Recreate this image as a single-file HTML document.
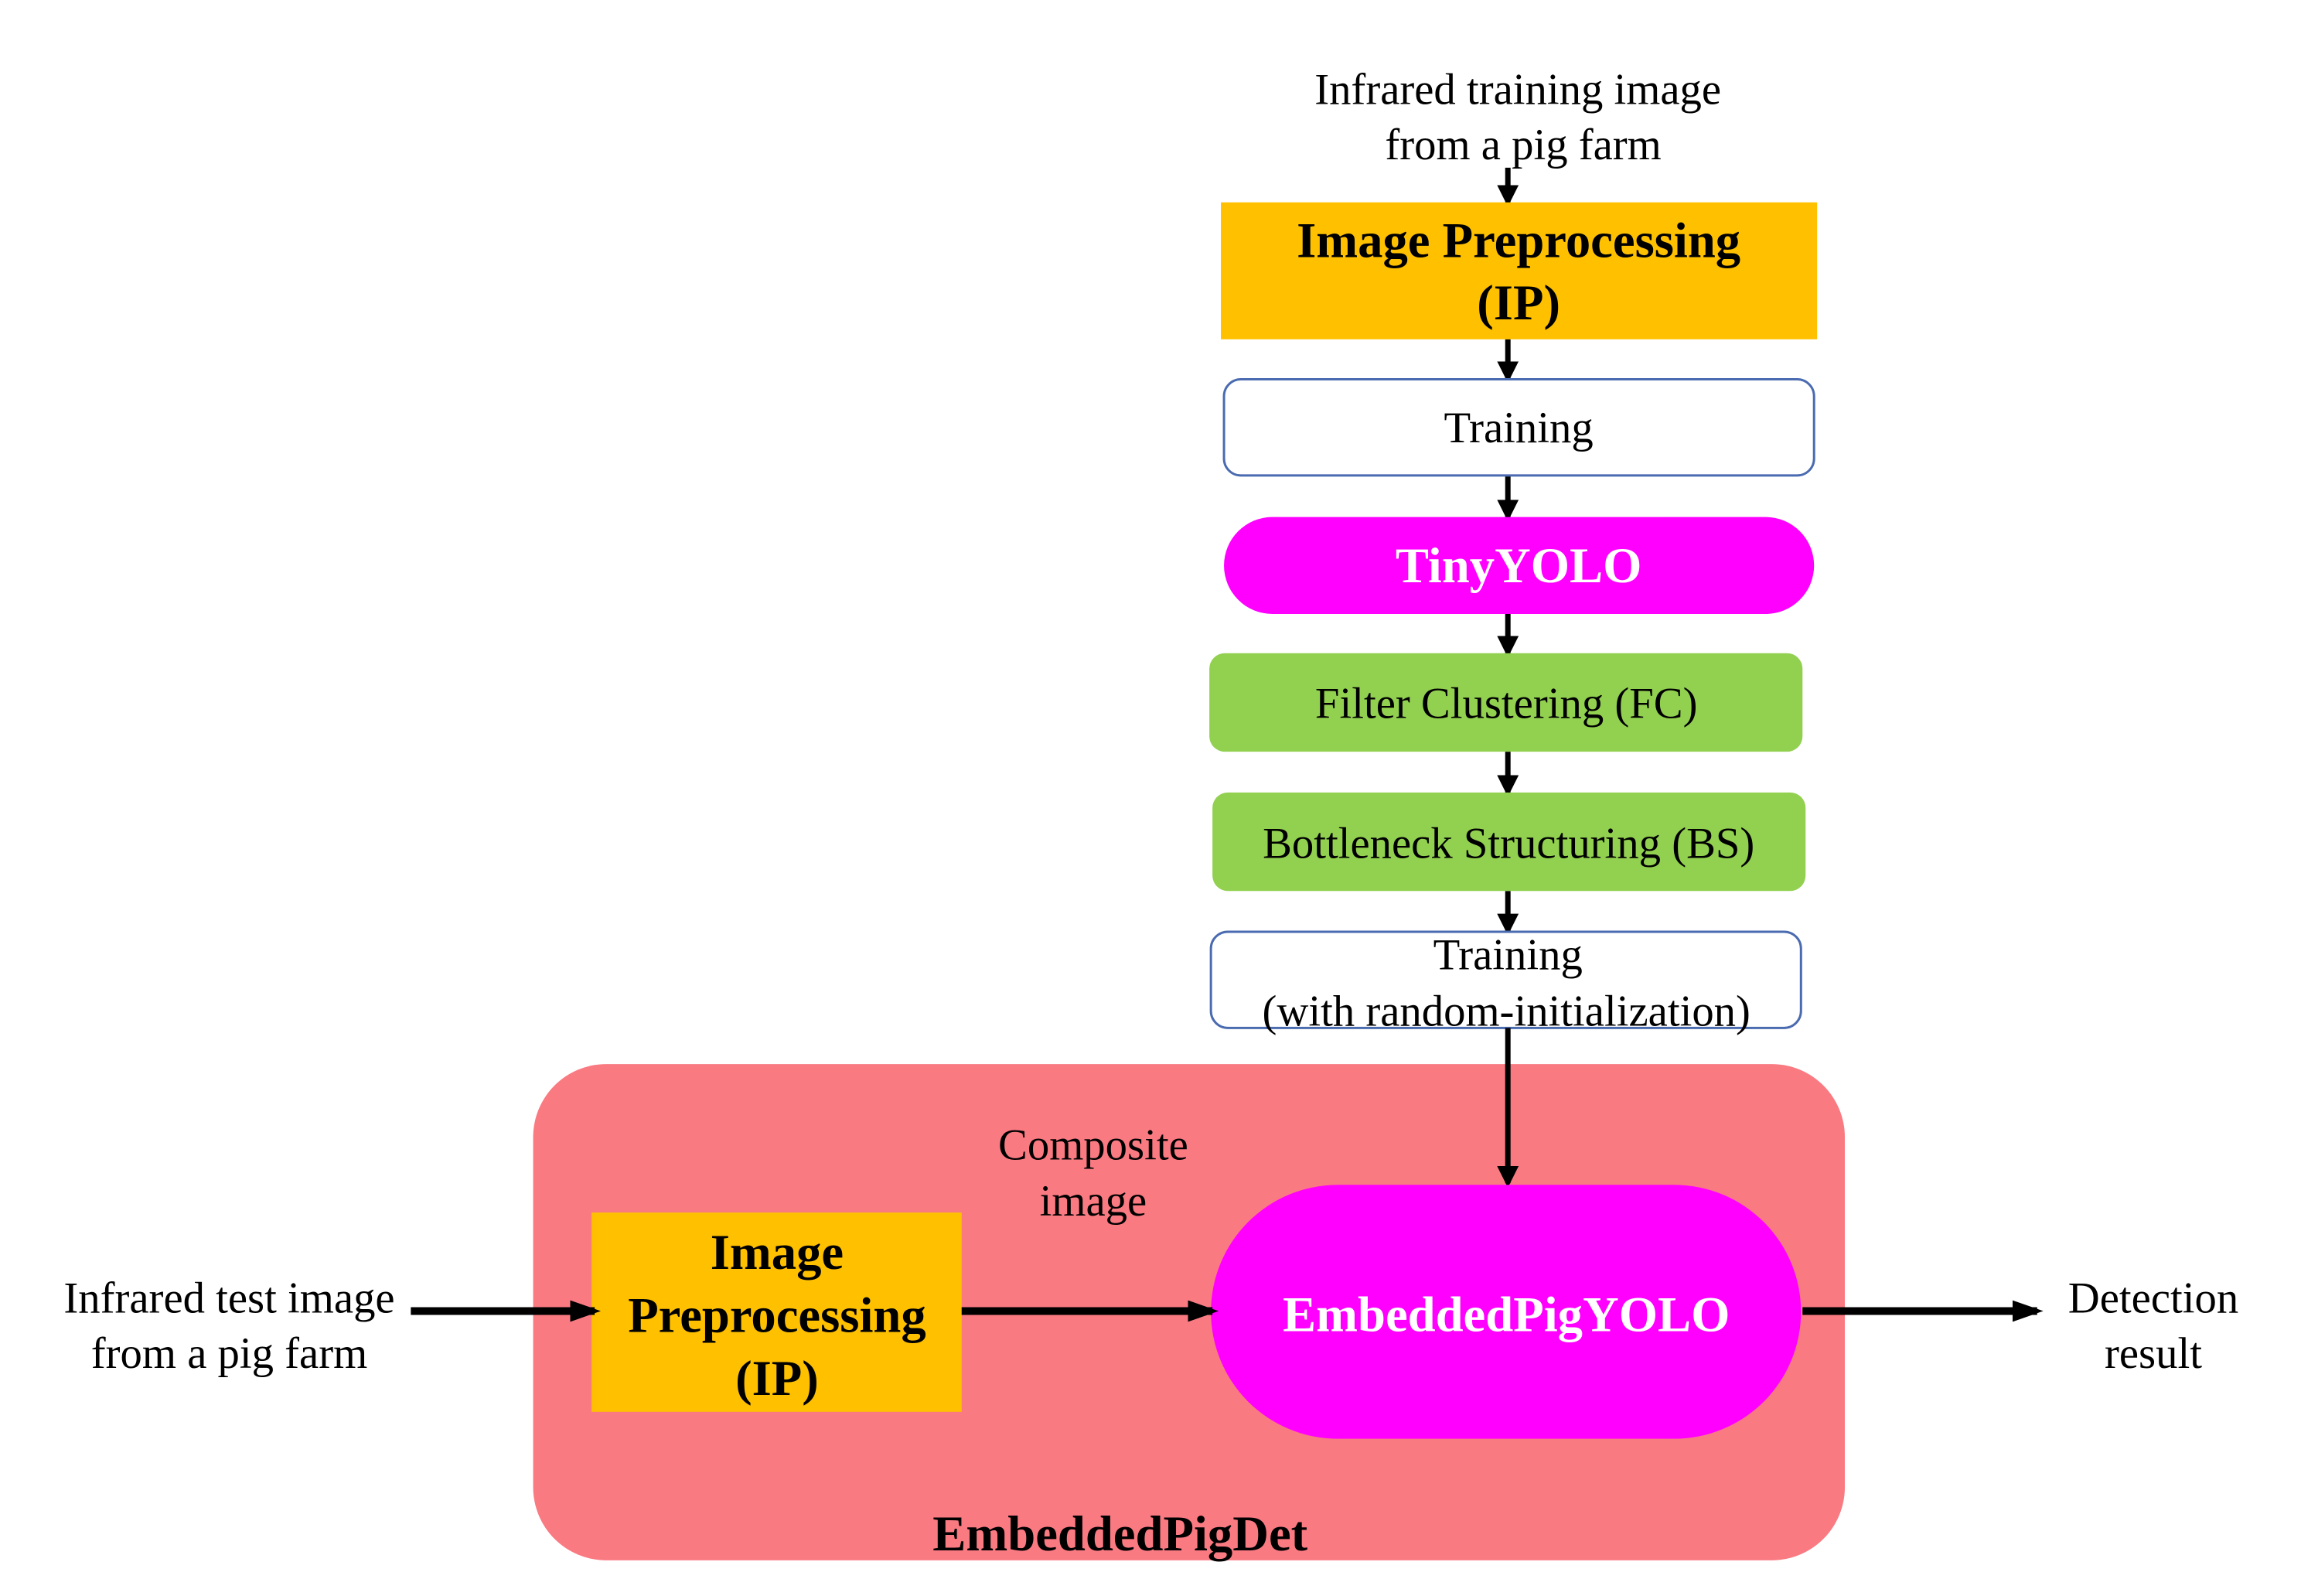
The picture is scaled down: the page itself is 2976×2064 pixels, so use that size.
<!DOCTYPE html>
<html><head><meta charset="utf-8"><style>
html,body{margin:0;padding:0;background:#fff}
svg{display:block}
</style></head><body>
<svg width="2976" height="2064" viewBox="0 0 2976 2064" xmlns="http://www.w3.org/2000/svg" font-family="'Liberation Serif', 'DejaVu Serif', serif">
<defs>
<marker id="a" markerWidth="4" markerHeight="4" refX="3.2" refY="2" orient="auto" markerUnits="strokeWidth"><path d="M0,0 L4,2 L0,4 z" fill="#000"/></marker>
<marker id="b" markerWidth="4" markerHeight="4" refX="3.2" refY="2" orient="auto" markerUnits="strokeWidth"><path d="M0,0.6 L4,2 L0,3.4 z" fill="#000"/></marker>
</defs>
<g transform="scale(0.995)">
<g font-size="57" fill="#000" text-anchor="middle" font-family="'Liberation Serif', serif">
<text x="1973" y="135">Infrared training image</text>
<text x="1980" y="207">from a pig farm</text>
</g>
<g stroke="#000" stroke-width="7" marker-end="url(#a)">
<line x1="1960" y1="218" x2="1960" y2="263"/>
<line x1="1960" y1="441" x2="1960" y2="492"/>
<line x1="1960" y1="618" x2="1960" y2="672"/>
<line x1="1960" y1="798" x2="1960" y2="849"/>
<line x1="1960" y1="977" x2="1960" y2="1030"/>
<line x1="1960" y1="1158" x2="1960" y2="1210"/>
</g>
<rect x="1587" y="263" width="775" height="178" fill="#FFC000"/>
<text x="1974" y="334" font-size="65" font-weight="bold" text-anchor="middle" font-family="'Liberation Serif', serif">Image Preprocessing</text>
<text x="1974" y="415" font-size="65" font-weight="bold" text-anchor="middle" font-family="'Liberation Serif', serif">(IP)</text>
<rect x="1591" y="493" width="767" height="125" rx="22" fill="#fff" stroke="#4A6BB0" stroke-width="3"/>
<text x="1974" y="575" font-size="57" text-anchor="middle" font-family="'Liberation Serif', serif">Training</text>
<rect x="1591" y="672" width="767" height="126" rx="63" fill="#FF00FF"/>
<text x="1974" y="757" font-size="65" font-weight="bold" fill="#fff" text-anchor="middle" font-family="'Liberation Serif', serif">TinyYOLO</text>
<rect x="1572" y="849" width="771" height="128" rx="20" fill="#92D050"/>
<text x="1958" y="933" font-size="57" text-anchor="middle" font-family="'Liberation Serif', serif">Filter Clustering (FC)</text>
<rect x="1576" y="1030" width="771" height="128" rx="20" fill="#92D050"/>
<text x="1961" y="1115" font-size="57" text-anchor="middle" font-family="'Liberation Serif', serif">Bottleneck Structuring (BS)</text>
<rect x="1574" y="1211" width="767" height="125" rx="22" fill="#fff" stroke="#4A6BB0" stroke-width="3"/>
<text x="1960" y="1260" font-size="57" text-anchor="middle" font-family="'Liberation Serif', serif">Training</text>
<text x="1958" y="1333" font-size="57" text-anchor="middle" font-family="'Liberation Serif', serif">(with random-initialization)</text>
<rect x="693" y="1383" width="1705" height="645" rx="95" fill="#FA7A82"/>
<line x1="1960" y1="1336" x2="1960" y2="1538" stroke="#000" stroke-width="7" marker-end="url(#a)"/>
<rect x="769" y="1576" width="481" height="259" fill="#FFC000"/>
<g font-size="65" font-weight="bold" text-anchor="middle" font-family="'Liberation Serif', serif">
<text x="1010" y="1649">Image</text>
<text x="1010" y="1731">Preprocessing</text>
<text x="1010" y="1813">(IP)</text>
</g>
<rect x="1574" y="1540" width="767" height="330" rx="165" fill="#FF00FF"/>
<text x="1958" y="1730" font-size="65" font-weight="bold" fill="#fff" text-anchor="middle" font-family="'Liberation Serif', serif">EmbeddedPigYOLO</text>
<g font-size="57" text-anchor="middle" font-family="'Liberation Serif', serif">
<text x="1421" y="1507">Composite</text>
<text x="1421" y="1580">image</text>
<text x="298" y="1706">Infrared test image</text>
<text x="298" y="1778">from a pig farm</text>
<text x="2799" y="1706">Detection</text>
<text x="2799" y="1778">result</text>
</g>
<text x="1456" y="2015" font-size="65" font-weight="bold" text-anchor="middle" font-family="'Liberation Serif', serif">EmbeddedPigDet</text>
<g stroke="#000" stroke-width="10" marker-end="url(#b)">
<line x1="534" y1="1704" x2="773" y2="1704"/>
<line x1="1250" y1="1704" x2="1576" y2="1704"/>
<line x1="2343" y1="1704" x2="2648" y2="1704"/>
</g>
</g>
</svg>
</body></html>
